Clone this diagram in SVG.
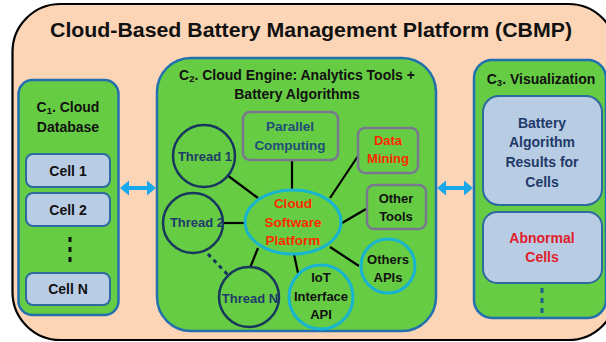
<svg xmlns="http://www.w3.org/2000/svg" width="606" height="342" viewBox="0 0 606 342">
  <defs>
    <style>
      text { font-family: "Liberation Sans", Arial, sans-serif; font-weight: bold; text-anchor: middle; dominant-baseline: central; }
      .panel { fill: #66CC44; stroke: #2270B0; stroke-width: 2.5; }
      .cell { fill: #B8CCE4; stroke: #2C6AA0; stroke-width: 2; }
      .tool { fill: #66CC44; stroke: #7A7890; stroke-width: 2.5; }
      .thread { fill: #66CC44; stroke: #17375E; stroke-width: 2.5; }
      .api { fill: #66CC44; stroke: #18B4D0; stroke-width: 3; }
      .link { stroke: #000; stroke-width: 2.2; fill: none; }
      .dark { fill: #111; }
      .navy { fill: #1F3A68; }
      .teal { fill: #1F4E79; }
      .red { fill: #FF2A00; }
      .red2 { fill: #E0202A; }
      .h { font-size: 14px; }
      .n { font-size: 13px; }
      .s { font-size: 13.5px; }
      .c { font-size: 14px; }
    </style>
    <!-- double-headed block arrow, centred on the origin -->
    <path id="dblArrow" d="M-18,0 L-9,-7.5 L-9,-2 L9,-2 L9,-7.5 L18,0 L9,7.5 L9,2 L-9,2 L-9,7.5 Z" fill="#1AA8EC"/>
  </defs>

  <!-- platform frame -->
  <rect x="12.5" y="4" width="604" height="336" rx="48" fill="#FCD5B6" stroke="#000" stroke-width="2.2"/>
  <text x="311" y="30" font-size="20" fill="#111" textLength="522" lengthAdjust="spacingAndGlyphs">Cloud-Based  Battery  Management  Platform  (CBMP)</text>

  <!-- C1: cloud database -->
  <g id="c1-database">
    <rect class="panel" x="18.5" y="80" width="100" height="235" rx="14"/>
    <text class="h dark" x="68" y="107">C<tspan font-size="9.5" dy="3">1</tspan><tspan dy="-3">. Cloud</tspan></text>
    <text class="h dark" x="68" y="127">Database</text>
  </g>
  <g id="cell-1">
    <rect class="cell" x="26" y="154" width="84" height="33" rx="7"/>
    <text class="c dark" x="68" y="170.5">Cell 1</text>
  </g>
  <g id="cell-2">
    <rect class="cell" x="26" y="193" width="84" height="33" rx="7"/>
    <text class="c dark" x="68" y="209.5">Cell 2</text>
  </g>
  <line x1="70" y1="237" x2="70" y2="264" stroke="#111" stroke-width="3" stroke-dasharray="5,5"/>
  <g id="cell-n">
    <rect class="cell" x="26" y="273" width="84" height="32" rx="7"/>
    <text class="c dark" x="68" y="289">Cell N</text>
  </g>

  <!-- C2: cloud engine -->
  <g id="c2-engine">
    <rect class="panel" x="157" y="58" width="279" height="273" rx="34"/>
    <text class="h dark" x="297" y="75">C<tspan font-size="9.5" dy="3">2</tspan><tspan dy="-3">. Cloud Engine: Analytics Tools +</tspan></text>
    <text class="h dark" x="297" y="94">Battery Algorithms</text>
  </g>

  <!-- connectors -->
  <g id="connectors">
    <use href="#dblArrow" x="138" y="188"/>
    <use href="#dblArrow" x="455" y="188"/>
    <line class="link" x1="227" y1="175" x2="258" y2="198"/>
    <line class="link" x1="292" y1="160" x2="292" y2="190"/>
    <line class="link" x1="360" y1="153" x2="330" y2="198"/>
    <line class="link" x1="366" y1="209" x2="342" y2="223"/>
    <line class="link" x1="330" y1="247" x2="359" y2="266"/>
    <line class="link" x1="294" y1="254" x2="298" y2="273"/>
    <line class="link" x1="258" y1="248" x2="250" y2="268"/>
    <line class="link" x1="224" y1="223" x2="246" y2="223"/>
    <line x1="208" y1="254" x2="228" y2="275" stroke="#17375E" stroke-width="3" stroke-dasharray="4,4"/>
  </g>

  <g id="thread-1">
    <circle class="thread" cx="204" cy="156" r="31"/>
    <text class="n navy" x="205" y="156">Thread 1</text>
  </g>
  <g id="parallel-computing">
    <rect class="tool" x="243" y="112" width="95" height="48" rx="7"/>
    <text class="s teal" x="290" y="126">Parallel</text>
    <text class="s teal" x="290" y="145">Computing</text>
  </g>
  <g id="data-mining">
    <rect class="tool" x="358" y="128" width="60" height="45" rx="7"/>
    <text class="n red" x="388" y="140">Data</text>
    <text class="n red" x="388" y="158">Mining</text>
  </g>
  <g id="other-tools">
    <rect class="tool" x="367" y="185" width="59" height="44" rx="7"/>
    <text class="n dark" x="396" y="198">Other</text>
    <text class="n dark" x="396" y="216">Tools</text>
  </g>
  <g id="thread-2">
    <circle class="thread" cx="193" cy="223" r="30"/>
    <text class="n navy" x="197" y="222">Thread 2</text>
  </g>
  <g id="cloud-software-platform">
    <ellipse cx="293" cy="222" rx="48" ry="32" fill="#66CC44" stroke="#18B4D0" stroke-width="3"/>
    <text class="s red" x="293" y="203">Cloud</text>
    <text class="s red" x="293" y="222">Software</text>
    <text class="s red" x="293" y="240">Platform</text>
  </g>
  <g id="others-apis">
    <circle class="api" cx="388" cy="266" r="27"/>
    <text class="n dark" x="388" y="259">Others</text>
    <text class="n dark" x="388" y="277">APIs</text>
  </g>
  <g id="thread-n">
    <circle class="thread" cx="249" cy="297" r="30"/>
    <text class="n navy" x="250" y="298">Thread N</text>
  </g>
  <g id="iot-interface-api">
    <circle class="api" cx="321" cy="297" r="32"/>
    <text class="n dark" x="321" y="277">IoT</text>
    <text class="n dark" x="321" y="296">Interface</text>
    <text class="n dark" x="321" y="314">API</text>
  </g>

  <!-- C3: visualization -->
  <g id="c3-visualization">
    <rect class="panel" x="474" y="60" width="132" height="258" rx="18"/>
    <text class="h dark" x="541" y="79">C<tspan font-size="9.5" dy="3">3</tspan><tspan dy="-3">. Visualization</tspan></text>
  </g>
  <g id="algorithm-results">
    <rect class="cell" x="483" y="96" width="119" height="109" rx="16"/>
    <text class="c navy" x="542" y="123">Battery</text>
    <text class="c navy" x="542" y="142">Algorithm</text>
    <text class="c navy" x="542" y="162">Results for</text>
    <text class="c navy" x="542" y="182">Cells</text>
  </g>
  <g id="abnormal-cells">
    <rect class="cell" x="483" y="212" width="119" height="71" rx="14"/>
    <text class="c red2" x="542" y="238">Abnormal</text>
    <text class="c red2" x="542" y="257">Cells</text>
  </g>
  <line x1="542" y1="288" x2="542" y2="316" stroke="#1F5F8A" stroke-width="3" stroke-dasharray="5,5"/>
</svg>
